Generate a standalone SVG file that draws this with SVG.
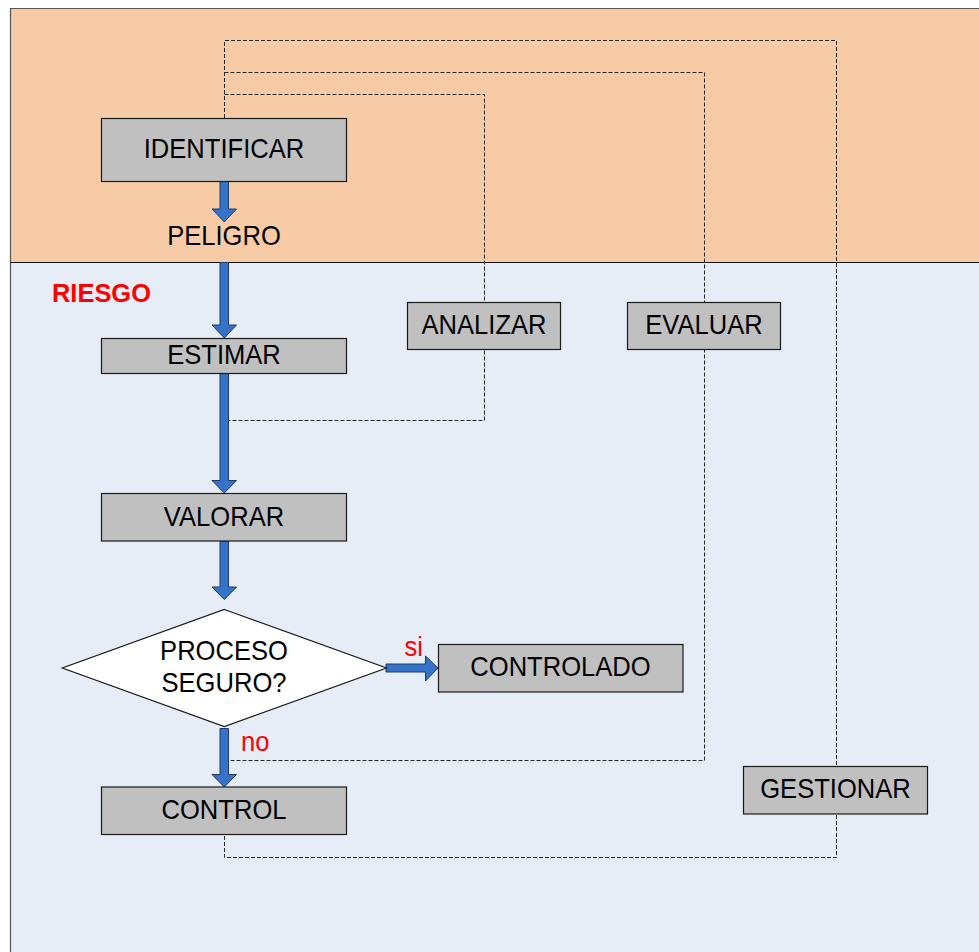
<svg xmlns="http://www.w3.org/2000/svg" width="979" height="952" viewBox="0 0 979 952">
  <style>
    .box { fill: #c0c0c0; stroke: #1a1a1a; stroke-width: 1.2; }
    .diamond { fill: #ffffff; stroke: #1a1a1a; stroke-width: 1.2; }
    .lbl { font-family: "Liberation Sans", Arial, sans-serif; font-size: 27.5px; fill: #000; text-anchor: middle; }
    .red { font-family: "Liberation Sans", Arial, sans-serif; font-size: 27.5px; fill: #ff0000; }
    .title { font-family: "Liberation Sans", Arial, sans-serif; font-size: 26.5px; font-weight: bold; fill: #ff0000; }
    .dash { fill: none; stroke: #2a2a2a; stroke-width: 1; stroke-dasharray: 4 2; }
    .flow { fill: #3572c9; stroke: #1f3a66; stroke-width: 1; stroke-linejoin: miter; }
  </style>

  <!-- background zones -->
  <rect x="0" y="0" width="979" height="952" fill="#ffffff"/>
  <rect x="10.5" y="8.5" width="975" height="254" fill="#f8cba7"/>
  <rect x="10.5" y="262.5" width="975" height="700" fill="#e6edf7"/>
  <path d="M10.5 960 V8.5 H979" fill="none" stroke="#555" stroke-width="1.2"/>
  <line x1="10.5" y1="262.5" x2="979" y2="262.5" stroke="#111" stroke-width="1.2"/>

  <g id="connectors">
    <!-- dashed feedback loops -->
    <path class="dash" d="M224.5 118 V40.5 H836.5 V857.5 H224.5 V835"/>
    <path class="dash" d="M224.5 72.5 H704.5 V760.5 H229"/>
    <path class="dash" d="M224.5 94.5 H484.5 V420.5 H229"/>

    <!-- main flow arrows -->
    <polygon class="flow" points="220,181.5 228.5,181.5 228.5,209 236.5,209 224.3,222 212,209 220,209"/>
    <polygon class="flow" points="220,262.5 228.5,262.5 228.5,325 236.5,325 224.3,338 212,325 220,325"/>
    <polygon class="flow" points="220,373.5 228.5,373.5 228.5,480.5 236.5,480.5 224.3,493 212,480.5 220,480.5"/>
    <polygon class="flow" points="220,541 228.5,541 228.5,587 236.5,587 224.3,599.5 212,587 220,587"/>
    <polygon class="flow" points="220,728.5 228.5,728.5 228.5,774.5 236.5,774.5 224.3,787 212,774.5 220,774.5"/>
    <polygon class="flow" points="386,664 425.5,664 425.5,656 438,668 425.5,681 425.5,672 386,672"/>

    <text class="red" transform="translate(404.5,656) scale(0.93,1)">si</text>
    <text class="red" transform="translate(241,751) scale(0.93,1)">no</text>
  </g>

  <g id="riesgo">
    <text class="title" transform="translate(52,302) scale(0.96,1)">RIESGO</text>
  </g>

  <g id="identificar">
    <rect class="box" x="101.5" y="118.5" width="245" height="63"/>
    <text class="lbl" transform="translate(224,158) scale(0.93,1)">IDENTIFICAR</text>
  </g>

  <g id="peligro">
    <text class="lbl" transform="translate(224,245) scale(0.93,1)">PELIGRO</text>
  </g>

  <g id="estimar">
    <rect class="box" x="101.5" y="338.5" width="245" height="35"/>
    <text class="lbl" transform="translate(224,364) scale(0.93,1)">ESTIMAR</text>
  </g>

  <g id="analizar">
    <rect class="box" x="407.5" y="302.5" width="153" height="47"/>
    <text class="lbl" transform="translate(484,334) scale(0.93,1)">ANALIZAR</text>
  </g>

  <g id="evaluar">
    <rect class="box" x="627.5" y="302.5" width="153" height="47"/>
    <text class="lbl" transform="translate(704,334) scale(0.93,1)">EVALUAR</text>
  </g>

  <g id="valorar">
    <rect class="box" x="101.5" y="493.5" width="245" height="47.5"/>
    <text class="lbl" transform="translate(224,526) scale(0.93,1)">VALORAR</text>
  </g>

  <g id="proceso-seguro">
    <polygon class="diamond" points="224.3,609.5 386.5,668 224.3,726.5 62.3,668"/>
    <text class="lbl" transform="translate(224,660) scale(0.93,1)">PROCESO</text>
    <text class="lbl" transform="translate(224,692) scale(0.93,1)">SEGURO?</text>
  </g>

  <g id="controlado">
    <rect class="box" x="438.5" y="644.5" width="244.5" height="47.5"/>
    <text class="lbl" transform="translate(560.5,676) scale(0.93,1)">CONTROLADO</text>
  </g>

  <g id="control">
    <rect class="box" x="101.5" y="787" width="245" height="47.5"/>
    <text class="lbl" transform="translate(224,819) scale(0.93,1)">CONTROL</text>
  </g>

  <g id="gestionar">
    <rect class="box" x="743.5" y="766.5" width="184" height="47.5"/>
    <text class="lbl" transform="translate(835.5,798) scale(0.93,1)">GESTIONAR</text>
  </g>
</svg>
